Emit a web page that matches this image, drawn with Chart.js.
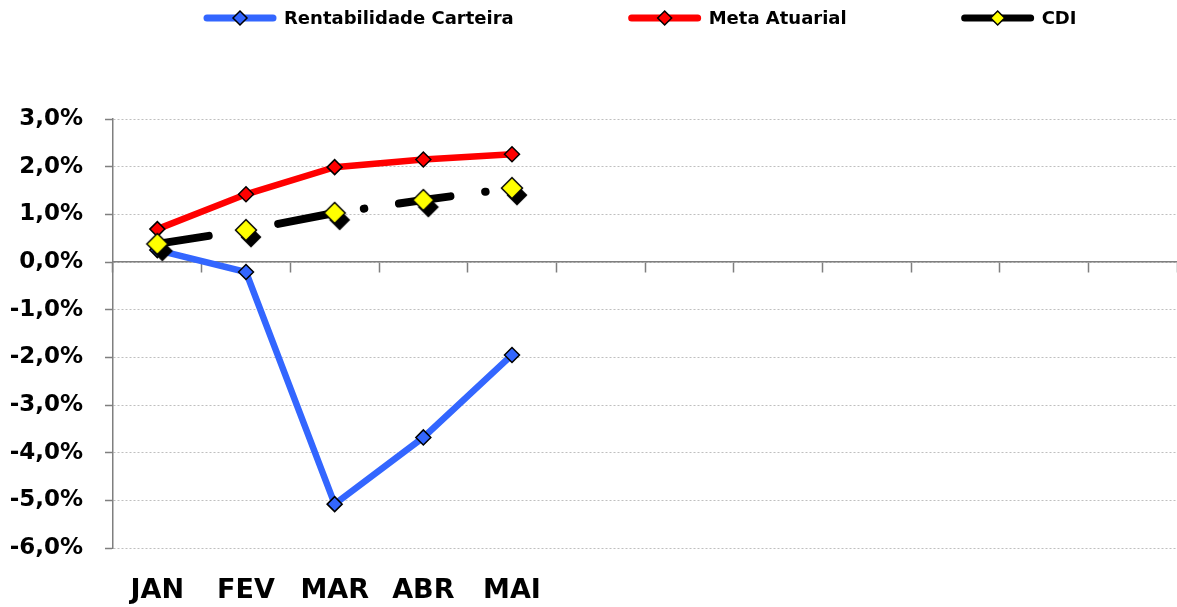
<!DOCTYPE html>
<html>
<head>
<meta charset="utf-8">
<script src="https://cdn.jsdelivr.net/npm/chart.js@4.4.1/dist/chart.umd.min.js"></script>
<style>
  html, body { margin: 0; padding: 0; background: #ffffff; }
  canvas { display: block; }
</style>
</head>
<body>
<canvas id="chart" width="1177" height="607"></canvas>
<script>
// Monthly categories (only the months already closed carry a label)
const months = ['JAN', 'FEV', 'MAR', 'ABR', 'MAI', '', '', '', '', '', '', ''];

// Accumulated returns, in percent
const rentabilidadeCarteira = [0.25, -0.21, -5.08, -3.68, -1.95];
const metaAtuarial = [0.69, 1.42, 1.99, 2.15, 2.26];
const cdi = [0.38, 0.67, 1.03, 1.30, 1.55];

// Value axis range and step, in percent
const yMin = -6;
const yMax = 3;
const yStep = 1;

const FONT = '"DejaVu Sans", sans-serif';
const AXIS_GRAY = '#7f7f7f';

// Diamond marker with a solid black drop shadow, used as a point style
function shadowDiamond(r, fill, dx, dy) {
  const size = 2 * Math.ceil(r + Math.max(dx, dy) + 3);
  const c = document.createElement('canvas');
  c.width = size; c.height = size;
  const g = c.getContext('2d');
  const m = size / 2;
  const path = (cx, cy) => {
    g.beginPath();
    g.moveTo(cx - r, cy); g.lineTo(cx, cy - r);
    g.lineTo(cx + r, cy); g.lineTo(cx, cy + r);
    g.closePath();
  };
  path(m + dx, m + dy);
  g.fillStyle = '#000000'; g.fill();
  path(m, m);
  g.fillStyle = fill; g.fill();
  g.lineWidth = 1.5; g.strokeStyle = '#000000'; g.stroke();
  return c;
}

const cdiMarker = shadowDiamond(10.5, '#ffff00', 5, 7);

// Horizontal axes take no side padding so the plot runs to the right edge
function noSidePadding(scale) {
  scale.paddingLeft = 0;
  scale.paddingRight = 0;
}

// Legend: line sample with a diamond in its middle, followed by the series name
const lineLegend = {
  id: 'lineLegend',
  afterDraw(chart) {
    const ctx = chart.ctx;
    const y = 18;
    const sample = 72;
    const textGap = 8;
    const itemGap = 115;
    let x = 204;
    ctx.save();
    ctx.font = 'bold 18px ' + FONT;
    ctx.textBaseline = 'middle';
    chart.data.datasets.forEach(ds => {
      ctx.beginPath();
      ctx.moveTo(x + 3, y);
      ctx.lineTo(x + sample - 3, y);
      ctx.lineWidth = 7;
      ctx.lineCap = 'round';
      ctx.strokeStyle = ds.borderColor;
      ctx.stroke();
      const cx = x + sample / 2, r = 7;
      ctx.beginPath();
      ctx.moveTo(cx - r, y); ctx.lineTo(cx, y - r);
      ctx.lineTo(cx + r, y); ctx.lineTo(cx, y + r);
      ctx.closePath();
      ctx.fillStyle = ds.legendMarker;
      ctx.fill();
      ctx.lineWidth = 1.5;
      ctx.strokeStyle = '#000000';
      ctx.stroke();
      ctx.fillStyle = '#000000';
      ctx.fillText(ds.label, x + sample + textGap, y + 1);
      x += sample + textGap + ctx.measureText(ds.label).width + itemGap;
    });
    ctx.restore();
  }
};

new Chart(document.getElementById('chart'), {
  type: 'line',
  data: {
    labels: months,
    datasets: [
      {
        label: 'Rentabilidade Carteira',
        data: rentabilidadeCarteira,
        borderColor: '#3366ff',
        borderWidth: 6.5,
        pointStyle: 'rectRot',
        pointRadius: 7.5,
        pointBackgroundColor: '#3366ff',
        pointBorderColor: '#000000',
        pointBorderWidth: 1.5,
        legendMarker: '#3366ff',
        tension: 0,
        order: 2
      },
      {
        label: 'Meta Atuarial',
        data: metaAtuarial,
        borderColor: '#ff0000',
        borderWidth: 6.5,
        pointStyle: 'rectRot',
        pointRadius: 7.5,
        pointBackgroundColor: '#ff0000',
        pointBorderColor: '#000000',
        pointBorderWidth: 1.5,
        legendMarker: '#ff0000',
        tension: 0,
        order: 1
      },
      {
        label: 'CDI',
        data: cdi,
        borderColor: '#000000',
        borderWidth: 8,
        borderDash: [52, 35, 0.5, 35],
        borderCapStyle: 'round',
        pointStyle: cdiMarker,
        pointRadius: 10,
        legendMarker: '#ffff00',
        tension: 0,
        order: 0
      }
    ]
  },
  options: {
    responsive: false,
    animation: false,
    layout: {
      autoPadding: false,
      padding: { top: 119, right: 0, bottom: 0, left: 0 }
    },
    plugins: {
      legend: { display: false },
      tooltip: { enabled: false }
    },
    scales: {
      x: {
        type: 'category',
        position: 'bottom',
        offset: true,
        grid: { display: false, drawTicks: false },
        border: { display: false },
        ticks: {
          autoSkip: false,
          maxRotation: 0,
          padding: 27,
          color: '#000000',
          font: { family: FONT, size: 27, weight: 'bold' }
        },
        afterFit(scale) { scale.height = 59; noSidePadding(scale); }
      },
      xZero: {
        type: 'category',
        position: { y: 0 },
        offset: true,
        grid: {
          offset: true,
          drawOnChartArea: false,
          drawTicks: true,
          tickLength: 10,
          tickColor: AXIS_GRAY,
          tickWidth: 1.5
        },
        border: { display: true, color: AXIS_GRAY, width: 1.5 },
        ticks: { display: false },
        afterFit: noSidePadding
      },
      y: {
        min: yMin,
        max: yMax,
        position: 'left',
        grid: {
          color: '#bfbfbf',
          lineWidth: 1,
          drawTicks: true,
          tickLength: 8,
          tickColor: AXIS_GRAY,
          tickWidth: 1.5
        },
        border: { display: true, color: AXIS_GRAY, width: 1.5, dash: [2, 2] },
        ticks: {
          stepSize: yStep,
          padding: 22,
          color: '#000000',
          font: { family: FONT, size: 23, weight: 'bold' },
          callback: v => v.toFixed(1).replace('.', ',') + '%'
        },
        afterFit(scale) { scale.width = 113; }
      }
    }
  },
  plugins: [lineLegend]
});
</script>
</body>
</html>
